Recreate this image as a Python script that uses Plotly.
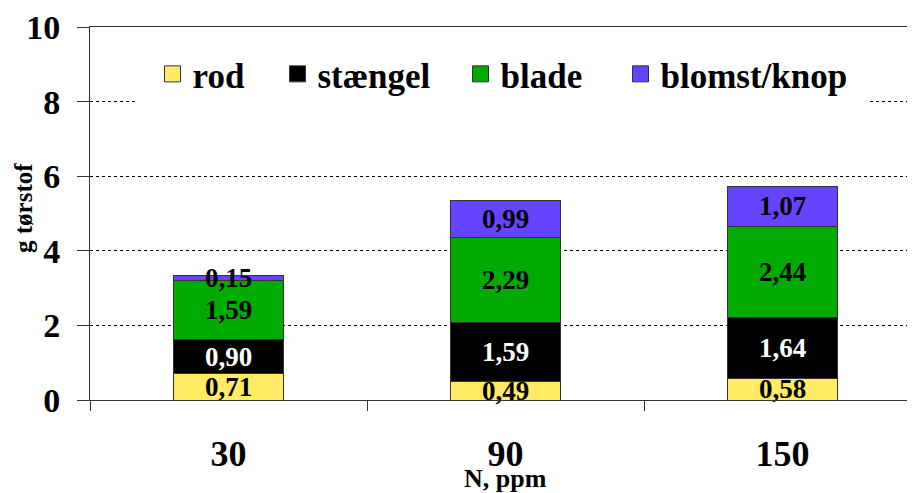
import plotly.graph_objects as go

categories = ["30", "90", "150"]
series_names = ["rod", "stængel", "blade", "blomst/knop"]
rod = [0.71, 0.49, 0.58]
staengel = [0.90, 1.59, 1.64]
blade = [1.59, 2.29, 2.44]
blomst = [0.15, 0.99, 1.07]
y_ticks = [0, 2, 4, 6, 8, 10]
x_title = "N, ppm"
y_title = "g tørstof"

colors = ["#FFEB64", "#000000", "#00AA00", "#6644FF"]
label_colors = ["#000000", "#FFFFFF", "#000000", "#000000"]
FONT = "Liberation Serif"

# page body has an 8px margin: figure is sized/offset to compensate
W, H = 907, 485
L, T, B, R = 82, 19, 93, 0
plot_w = W - L - R
plot_h = H - T - B

# legend entry left edges (figure px) for each series, one legend per entry
legend_ids = ["legend", "legend2", "legend3", "legend4"]
legend_left_px = [129.5, 254.5, 437.5, 597.5]

fig = go.Figure()
for i, (name, vals, col, tcol) in enumerate(zip(series_names, [rod, staengel, blade, blomst], colors, label_colors)):
    fig.add_trace(go.Bar(
        x=categories, y=vals, name=name,
        marker=dict(color=col, line=dict(color="#333333", width=1)),
        width=0.4, texttemplate="%{y:.2f}", textposition="inside",
        insidetextanchor="middle", textangle=0,
        textfont=dict(family=FONT, size=27, color=tcol, weight="bold"),
        cliponaxis=False, showlegend=False, hoverinfo="skip"))
    fig.add_trace(go.Scatter(
        x=[None], y=[None], mode="markers", name=name, legend=legend_ids[i],
        marker=dict(symbol="square", size=22, color=col, line=dict(color="#333333", width=1))))

legend_common = dict(orientation="h", yanchor="top", xanchor="left",
                     bgcolor="white", bordercolor="white", borderwidth=15,
                     font=dict(family=FONT, size=35, color="black", weight="bold"),
                     itemsizing="trace")
legends = {}
for lid, lx in zip(legend_ids, legend_left_px):
    legends[lid] = dict(legend_common, x=(lx - L) / plot_w, y=0.993)

fig.update_layout(
    width=W, height=H,
    margin=dict(l=L, r=R, t=T, b=B, autoexpand=False),
    barmode="stack",
    separators=",.",
    plot_bgcolor="white", paper_bgcolor="white",
    font=dict(family=FONT, color="black", weight="bold"),
    uniformtext=dict(mode="show", minsize=27),
    xaxis=dict(type="category", range=[-0.5, 2.478], tickson="boundaries",
               ticks="outside", ticklen=10, tickcolor="#333333",
               showline=True, linecolor="#333333", linewidth=1, mirror=True,
               showgrid=False, ticklabelstandoff=22,
               tickfont=dict(family=FONT, size=36, weight="bold")),
    yaxis=dict(range=[0, 10], tickvals=y_ticks, ticks="outside", ticklen=12, tickcolor="#333333",
               showline=True, linecolor="#333333", linewidth=1,
               showgrid=True, gridcolor="black", griddash="dot", gridwidth=1, zeroline=False,
               ticklabelstandoff=10,
               tickfont=dict(family=FONT, size=34, weight="bold")),
    annotations=[
        dict(text=y_title, xref="paper", yref="paper", x=(15 - L) / plot_w, y=(392 - 200) / plot_h,
             textangle=-90, showarrow=False, xanchor="center", yanchor="middle",
             font=dict(family=FONT, size=25, weight="bold")),
        dict(text=x_title, xref="x", yref="paper", x=1, y=(392 - 471) / plot_h,
             showarrow=False, xanchor="center", yanchor="middle",
             font=dict(family=FONT, size=26, weight="bold")),
    ],
    **legends,
)

fig.write_html("out.html")
